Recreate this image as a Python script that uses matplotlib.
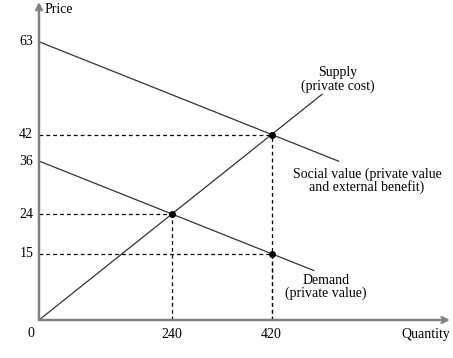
import matplotlib
matplotlib.use("Agg")
import matplotlib.pyplot as plt
import numpy as np

plt.rcParams['font.family'] = ['Liberation Serif', 'DejaVu Serif']

# curves: (intercept, slope) and end quantity
q_max = 742
p_max = 72
supply_q = [0, 511]
supply_slope = 0.1
social_q = [0, 541]
social_int, social_slope = 63, -0.05
demand_q = [0, 496]
demand_int, demand_slope = 36, -0.05

# marked points
pts_q = [420, 240, 420]
pts_p = [42, 24, 15]

yticks = [63, 42, 36, 24, 15]
xticks = [240, 420]

fig = plt.figure(figsize=(4.53, 3.58), dpi=100)
ax = fig.add_axes([39/453, 38/358, (450-39)/453, (320-2)/358])
ax.set_xlim(0, q_max)
ax.set_ylim(0, p_max)
ax.axis('off')

sq = np.array(supply_q)
ax.plot(sq, supply_slope*sq, color='#333333', lw=0.9)
s2 = np.array(social_q)
ax.plot(s2, social_int + social_slope*s2, color='#333333', lw=0.9)
d = np.array(demand_q)
ax.plot(d, demand_int + demand_slope*d, color='#333333', lw=0.9)

# dashed guides
for q, p in zip(pts_q, pts_p):
    ax.plot([0, q], [p, p], color='black', lw=0.9, ls=(0, (3, 2.5)))
    ax.plot([q, q], [0, p], color='black', lw=0.9, ls=(0, (3, 2.5)))
ax.plot(pts_q, pts_p, 'o', color='black', ms=4, zorder=5)

# axes with arrows
ax.annotate('', xy=(q_max, 0), xytext=(0, 0), annotation_clip=False,
            arrowprops=dict(arrowstyle='->', color='#808080', lw=1.8, shrinkA=0, shrinkB=0))
ax.annotate('', xy=(0, p_max), xytext=(0, 0), annotation_clip=False,
            arrowprops=dict(arrowstyle='->', color='#808080', lw=1.8, shrinkA=0, shrinkB=0))

fs = 10
for y in yticks:
    ax.text(-10.5, y, str(y), ha='right', va='center', fontsize=fs)
for x in xticks:
    ax.text(x, -1.9, str(x), ha='center', va='top', fontsize=fs)
ax.text(-9, -1.6, '0', ha='right', va='top', fontsize=fs)
ax.text(q_max, -1.9, 'Quantity', ha='right', va='top', fontsize=fs)
ax.text(10, p_max - 0.2, 'Price', ha='left', va='top', fontsize=fs)

ax.text(540, 54.5, 'Supply\n(private cost)', ha='center', va='center', fontsize=fs, linespacing=1.0)
ax.text(592, 31.5, 'Social value (private value\nand external benefit)', ha='center', va='center', fontsize=fs, linespacing=0.9)
ax.text(518, 7.5, 'Demand\n(private value)', ha='center', va='center', fontsize=fs, linespacing=0.9)

fig.savefig('out.png', dpi=100)
